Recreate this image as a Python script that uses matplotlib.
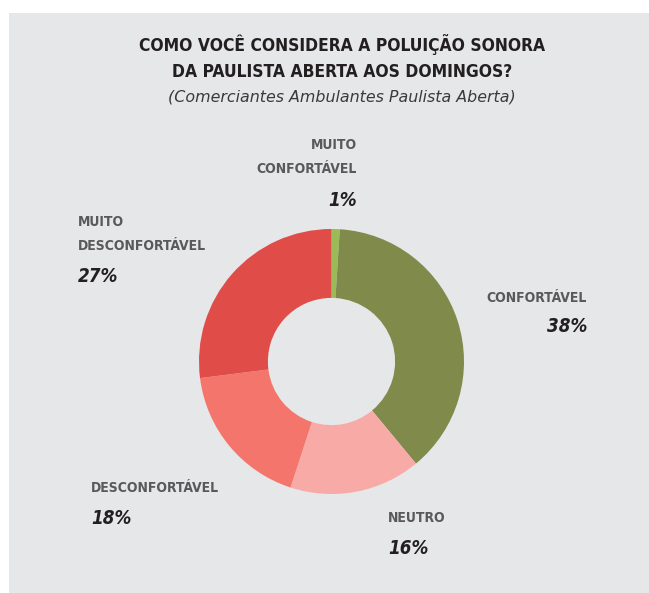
import matplotlib.pyplot as plt
from matplotlib.patches import Rectangle

W, H = 649, 593

labels = ['MUITO\nCONFORTÁVEL', 'CONFORTÁVEL', 'NEUTRO', 'DESCONFORTÁVEL', 'MUITO\nDESCONFORTÁVEL']
values = [1, 38, 16, 18, 27]
colors = ['#9bbb59', '#7f8a4b', '#f7aaa6', '#f4756c', '#e04c47']

plt.rcParams['font.family'] = ['DejaVu Sans']
plt.rcParams['font.stretch'] = 'condensed'

fig = plt.figure(figsize=(W / 100, H / 100), dpi=100, facecolor='white')
fig.patches.append(Rectangle((9 / W, 0), 1 - 9 / W, 1 - 13 / H, transform=fig.transFigure,
                             facecolor='#e6e7e8', edgecolor='none', zorder=-5))

def px(x, y):
    return x / W, 1 - y / H

# donut
cx, cy, r = 331.5, 361.5, 132.5
ax = fig.add_axes([(cx - r) / W, (H - cy - r) / H, 2 * r / W, 2 * r / H])
ax.patch.set_visible(False)
ax.pie(values, colors=colors, startangle=90, counterclock=False,
       wedgeprops=dict(width=0.52, edgecolor='none'))
ax.set_xlim(-1, 1)
ax.set_ylim(-1, 1)
ax.axis('off')

# title
fig.text(*px(342, 45), 'COMO VOCÊ CONSIDERA A POLUIÇÃO SONORA', ha='center', va='center',
         fontsize=12.5, fontweight='bold', color='#231f20')
fig.text(*px(342, 72), 'DA PAULISTA ABERTA AOS DOMINGOS?', ha='center', va='center',
         fontsize=12.5, fontweight='bold', color='#231f20')
fig.text(*px(342, 97), '(Comerciantes Ambulantes Paulista Aberta)', ha='center', va='center',
         fontsize=11.4, style='italic', fontstretch='normal', color='#3a3a3c')

cat_kw = dict(fontsize=10, fontweight='bold', color='#58595b', linespacing=1.85)
pct_kw = dict(fontsize=13.5, fontweight='bold', style='italic', color='#231f20')

# label positions (pixels)
lab_pos = [(357, 157, 'right'), (587, 298, 'right'), (388, 518, 'left'),
           (91, 488, 'left'), (78, 234, 'left')]
pct_pos = [(357, 200), (587, 327), (388, 548), (91, 518), (78, 277)]

for lab, v, (lx, ly, ha), (qx, qy) in zip(labels, values, lab_pos, pct_pos):
    fig.text(*px(lx, ly), lab, ha=ha, va='center', multialignment=ha, **cat_kw)
    fig.text(*px(qx, qy), f'{v}%', ha=ha, va='center', **pct_kw)

fig.savefig('out.png', dpi=100, facecolor='white')
